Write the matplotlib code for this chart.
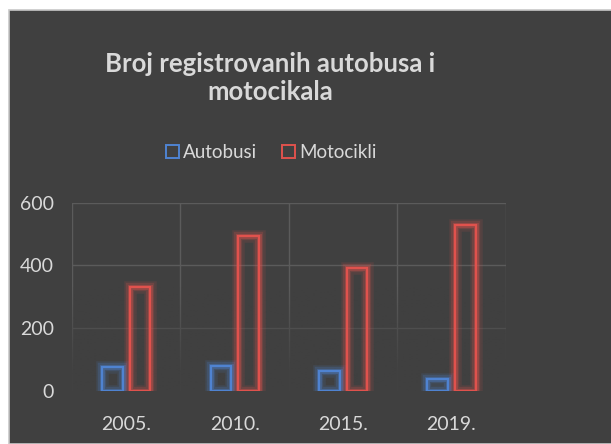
import matplotlib
matplotlib.use("Agg")
import matplotlib.pyplot as plt
import matplotlib.patheffects as pe
from matplotlib.patches import Rectangle
from matplotlib.colors import to_rgb
import numpy as np

categories = ["2005.", "2010.", "2015.", "2019."]
autobusi = [77, 80, 64, 38]
motocikli = [330, 494, 393, 529]
yticks = [0, 200, 400, 600]

plt.rcParams['font.family'] = ['Lato', 'DejaVu Sans']

BG = '#404040'
TXT = '#d9d9d9'
BLUE = '#4f83d1'
RED = '#e0524d'
GRID = '#5b5b5b'

fig = plt.figure(figsize=(6.11, 4.44), dpi=100, facecolor='white')
fig.patches.append(Rectangle((8.5/611, 0), 1, 1 - 10.5/444, transform=fig.transFigure,
                             facecolor=BG, edgecolor='#c8c8c8', linewidth=1.2, zorder=-10))

ax = fig.add_axes([72/611, 1 - 390.7/444, (505.7 - 72)/611, (390.7 - 202.7)/444])
ax.set_facecolor('none')
x = np.arange(len(categories))
w = 0.19
off = 0.127

def glow(color):
    return [pe.Stroke(linewidth=9, foreground=color, alpha=0.12),
            pe.Stroke(linewidth=6, foreground=color, alpha=0.2),
            pe.Stroke(linewidth=3.5, foreground=color, alpha=0.35),
            pe.Normal()]

b1 = ax.bar(x - off, autobusi, w, facecolor='none', edgecolor=BLUE, linewidth=1.6, zorder=3)
b2 = ax.bar(x + off, motocikli, w, facecolor='none', edgecolor=RED, linewidth=1.6, zorder=3)
for p in b1:
    p.set_path_effects(glow(BLUE))
for p in b2:
    p.set_path_effects(glow(RED))

ax.set_xlim(-0.5, len(categories) - 0.5)
ax.set_ylim(0, 600)

# fade of the gridlines toward the bottom (reflection-like effect)
n = 200
alpha = np.clip((330 - np.linspace(600, 0, n)) / (330 - 60), 0, 1) * 0.95
grad = np.zeros((n, 1, 4))
grad[:, 0, :3] = to_rgb(BG)
grad[:, 0, 3] = alpha
ax.imshow(grad, extent=(-0.52, len(categories) - 0.48, 0, 600), aspect='auto',
          zorder=1, interpolation='bilinear')
ax.set_xlim(-0.5, len(categories) - 0.5)
ax.set_ylim(0, 600)

ax.set_yticks(yticks)
ax.set_xticks(x)
ax.set_xticklabels(categories)
ax.set_xticks(np.arange(len(categories) + 1) - 0.5, minor=True)
ax.grid(True, which='minor', axis='x', color=GRID, linewidth=1)
ax.grid(True, which='major', axis='y', color=GRID, linewidth=1)
ax.set_axisbelow(True)
ax.tick_params(which='both', length=0)
ax.tick_params(axis='y', colors=TXT, labelsize=14, pad=13)
ax.tick_params(axis='x', colors=TXT, labelsize=14, pad=18)
for s in ax.spines.values():
    s.set_visible(False)

fig.text(0.442, 1 - 78/444, "Broj registrovanih autobusa i\nmotocikala", ha='center', va='center',
         fontsize=18.5, fontweight='bold', color=TXT, linespacing=1.2)

handles = [Rectangle((0, 0), 1, 1, facecolor='none', edgecolor=BLUE, linewidth=1.4),
           Rectangle((0, 0), 1, 1, facecolor='none', edgecolor=RED, linewidth=1.4)]
leg = fig.legend(handles, ["Autobusi", "Motocikli"], loc='center', bbox_to_anchor=(0.444, 1 - 153/444),
                 ncol=2, frameon=False, fontsize=13.5, labelcolor=TXT, handlelength=0.7,
                 handleheight=0.7, handletextpad=0.25, columnspacing=1.3)

fig.savefig('out.png', dpi=100, facecolor='white')
